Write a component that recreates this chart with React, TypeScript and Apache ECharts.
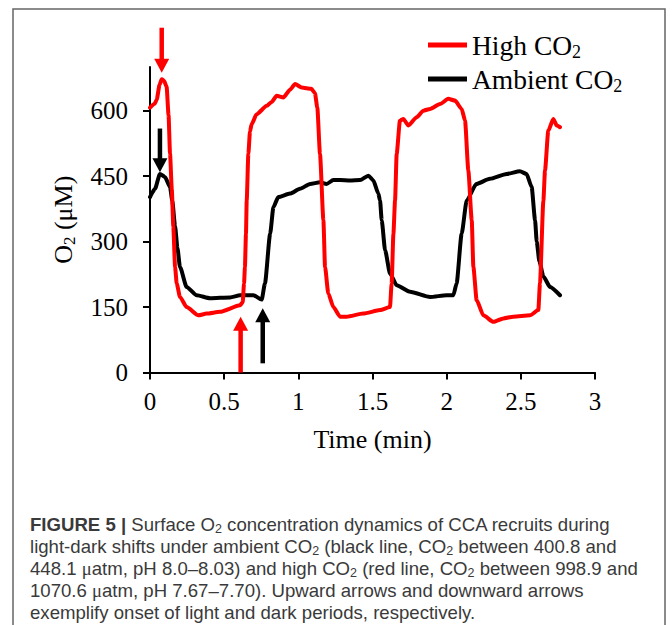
import React, { useEffect, useRef } from 'react';
import * as echarts from 'echarts';

const seriesNames = ['High CO2', 'Ambient CO2'];
const seriesColors = ['#ff0000', '#000000'];

const highTime = [0, 0.03, 0.045, 0.065, 0.079, 0.095, 0.112, 0.125, 0.135, 0.147, 0.157, 0.169, 0.18, 0.202, 0.247, 0.326, 0.382, 0.472, 0.607, 0.625, 0.634, 0.64, 0.647, 0.652, 0.663, 0.674, 0.685, 0.719, 0.787, 0.82, 0.854, 0.899, 0.944, 0.978, 1.022, 1.088, 1.112, 1.128, 1.146, 1.169, 1.18, 1.202, 1.236, 1.281, 1.326, 1.438, 1.551, 1.618, 1.629, 1.641, 1.652, 1.663, 1.685, 1.708, 1.742, 1.798, 1.843, 1.888, 1.955, 2.011, 2.056, 2.101, 2.124, 2.146, 2.169, 2.18, 2.202, 2.247, 2.315, 2.382, 2.449, 2.562, 2.618, 2.629, 2.652, 2.663, 2.685, 2.719, 2.742, 2.764];
const highO2 = [607, 615, 625, 660, 672, 668, 655, 590, 502, 420, 335, 242, 204, 173, 150, 131, 135, 139, 154, 161, 204, 242, 318, 394, 501, 552, 569, 592, 611, 620, 634, 630, 648, 661, 653, 650, 640, 607, 501, 349, 242, 181, 150, 128, 128, 135, 143, 150, 204, 318, 394, 501, 577, 581, 566, 585, 600, 604, 615, 627, 623, 604, 577, 463, 349, 242, 166, 131, 116, 124, 128, 131, 143, 204, 394, 463, 554, 581, 566, 562];

const ambientTime = [0, 0.034, 0.067, 0.101, 0.135, 0.15, 0.169, 0.185, 0.202, 0.247, 0.315, 0.405, 0.54, 0.607, 0.697, 0.753, 0.775, 0.81, 0.832, 0.865, 0.944, 1.011, 1.079, 1.146, 1.19, 1.236, 1.281, 1.348, 1.416, 1.472, 1.506, 1.539, 1.551, 1.562, 1.585, 1.618, 1.663, 1.753, 1.888, 2.0, 2.045, 2.067, 2.101, 2.135, 2.2, 2.292, 2.404, 2.494, 2.539, 2.573, 2.596, 2.607, 2.625, 2.652, 2.697, 2.764];
const ambientO2 = [402, 421, 455, 448, 425, 394, 335, 285, 242, 196, 177, 170, 172, 177, 177, 167, 204, 318, 379, 402, 410, 421, 432, 436, 432, 441, 441, 440, 441, 451, 440, 410, 394, 349, 280, 227, 200, 185, 173, 177, 177, 204, 318, 394, 432, 444, 455, 461, 455, 425, 349, 300, 255, 220, 196, 177];

const yTicks = [0, 150, 300, 450, 600];

// arrows: time, O2 at tail, O2 at tip
const arrowTime = [0.079, 0.067, 0.611, 0.76];
const arrowFrom = [790, 559, 0, 21];
const arrowTo = [687, 459, 128, 147];
const arrowColor = ['#ff0000', '#000000', '#ff0000', '#000000'];

const captionLines = [
  '{b|FIGURE 5 | }{n|Surface O}{s|2}{n| concentration dynamics of CCA recruits during}',
  '{n|light-dark shifts under ambient CO}{s|2}{n| (black line, CO}{s|2}{n| between 400.8 and}',
  '{n|448.1 }{g|μ}{n|atm, pH 8.0–8.03) and high CO}{s|2}{n| (red line, CO}{s|2}{n| between 998.9 and}',
  '{n|1070.6 }{g|μ}{n|atm, pH 7.67–7.70). Upward arrows and downward arrows}',
  '{n|exemplify onset of light and dark periods, respectively.}',
];

const SERIF = "'Liberation Serif', 'Times New Roman', serif";
const SANS = "'Liberation Sans', Arial, sans-serif";

export default function App() {
  const ref = useRef<HTMLDivElement>(null);
  useEffect(() => {
    document.body.style.margin = '0';
    const chart = echarts.init(ref.current!, null, { renderer: 'svg' });
    const capFill = '#3a3a3a';
    const capSize = 18.6;
    const capRich = {
      n: { fontFamily: SANS, fontSize: capSize, lineHeight: 22, fill: capFill, color: capFill },
      b: { fontFamily: SANS, fontSize: capSize, lineHeight: 22, fontWeight: 'bold', fill: capFill, color: capFill },
      g: { fontFamily: SERIF, fontSize: capSize, lineHeight: 22, fill: capFill, color: capFill },
      s: { fontFamily: SANS, fontSize: 12.5, lineHeight: 12, verticalAlign: 'bottom', fill: capFill, color: capFill },
    };
    const option: any = {
      animation: false,
      backgroundColor: '#ffffff',
      grid: { left: 150, right: 77, top: 67, bottom: 252.5 },
      legend: {
        data: seriesNames,
        orient: 'vertical',
        left: 428,
        top: 31,
        padding: 0,
        itemGap: 4,
        itemWidth: 39,
        itemHeight: 5,
        itemTextGap: 8,
        icon: 'rect',
        formatter: (name: string) =>
          name === 'High CO2' ? '{m|High CO}{s|2}' : '{m|Ambient CO}{s|2}',
        textStyle: {
          color: '#000',
          rich: {
            m: { fontFamily: SERIF, fontSize: 27.5, lineHeight: 32, color: '#000' },
            s: { fontFamily: SERIF, fontSize: 18, lineHeight: 13, verticalAlign: 'bottom', color: '#000' },
          },
        },
      },
      xAxis: {
        type: 'value',
        min: 0,
        max: 3,
        interval: 0.5,
        name: 'Time (min)',
        nameLocation: 'middle',
        nameGap: 54,
        nameTextStyle: { fontFamily: SERIF, fontSize: 26, color: '#000' },
        axisLine: { lineStyle: { color: '#000', width: 2 } },
        axisTick: { show: true, inside: false, length: 7, lineStyle: { color: '#000', width: 2 } },
        axisLabel: { fontFamily: SERIF, fontSize: 25, color: '#000', margin: 16 },
        splitLine: { show: false },
      },
      yAxis: {
        type: 'value',
        min: 0,
        max: 700,
        interval: 150,
        name: '{m|O}{s|2}{m| (μM)}',
        nameLocation: 'middle',
        nameGap: 72,
        nameTextStyle: {
          rich: {
            m: { fontFamily: SERIF, fontSize: 26, lineHeight: 30, color: '#000' },
            s: { fontFamily: SERIF, fontSize: 17, lineHeight: 12, verticalAlign: 'bottom', color: '#000' },
          },
        },
        axisLine: { show: true, lineStyle: { color: '#000', width: 2 } },
        axisTick: { show: true, inside: false, length: 7, customValues: yTicks, lineStyle: { color: '#000', width: 2 } },
        axisLabel: { fontFamily: SERIF, fontSize: 25, color: '#000', margin: 22, customValues: yTicks },
        splitLine: { show: false },
      },
      series: [
        {
          name: seriesNames[1],
          type: 'line',
          data: ambientTime.map((t, i) => [t, ambientO2[i]]),
          showSymbol: false,
          symbol: 'none',
          smooth: 0.2,
          smoothMonotone: 'x',
          lineStyle: { color: seriesColors[1], width: 4, join: 'round', cap: 'round' },
          itemStyle: { color: seriesColors[1] },
          z: 2,
        },
        {
          name: seriesNames[0],
          type: 'line',
          data: highTime.map((t, i) => [t, highO2[i]]),
          showSymbol: false,
          symbol: 'none',
          smooth: 0.2,
          smoothMonotone: 'x',
          lineStyle: { color: seriesColors[0], width: 4, join: 'round', cap: 'round' },
          itemStyle: { color: seriesColors[0] },
          z: 3,
        },
        {
          name: 'arrows',
          type: 'custom',
          clip: false,
          z: 4,
          data: arrowTime.map((t, i) => [t, arrowFrom[i], arrowTo[i]]),
          encode: { x: 0, y: [1, 2] },
          renderItem: (params: any, api: any) => {
            const t = api.value(0);
            const p0 = api.coord([t, api.value(1)]);
            const p1 = api.coord([t, api.value(2)]);
            const dir = p1[1] > p0[1] ? 1 : -1;
            const headH = 14;
            const headW = 7.5;
            const color = arrowColor[params.dataIndex];
            return {
              type: 'group',
              children: [
                {
                  type: 'line',
                  shape: { x1: p0[0], y1: p0[1], x2: p1[0], y2: p1[1] - dir * (headH - 1) },
                  style: { stroke: color, lineWidth: 4.5 },
                },
                {
                  type: 'polygon',
                  shape: {
                    points: [
                      [p1[0], p1[1]],
                      [p1[0] - headW, p1[1] - dir * headH],
                      [p1[0] + headW, p1[1] - dir * headH],
                    ],
                  },
                  style: { fill: color },
                },
              ],
            };
          },
        },
      ],
      graphic: [
        {
          type: 'rect',
          shape: { x: 13, y: 9, width: 652, height: 700 },
          style: { fill: 'none', stroke: '#666666', lineWidth: 1.5 },
          silent: true,
        },
        ...captionLines.map((line, i) => ({
          type: 'text',
          x: 30,
          y: 524 + i * 22,
          style: {
            text: line,
            rich: capRich,
            verticalAlign: 'middle',
            fill: capFill,
          },
        })),
      ],
    };
    chart.setOption(option);
    return () => chart.dispose();
  }, []);
  return <div ref={ref} style={{ width: 672, height: 625 }} />;
}
